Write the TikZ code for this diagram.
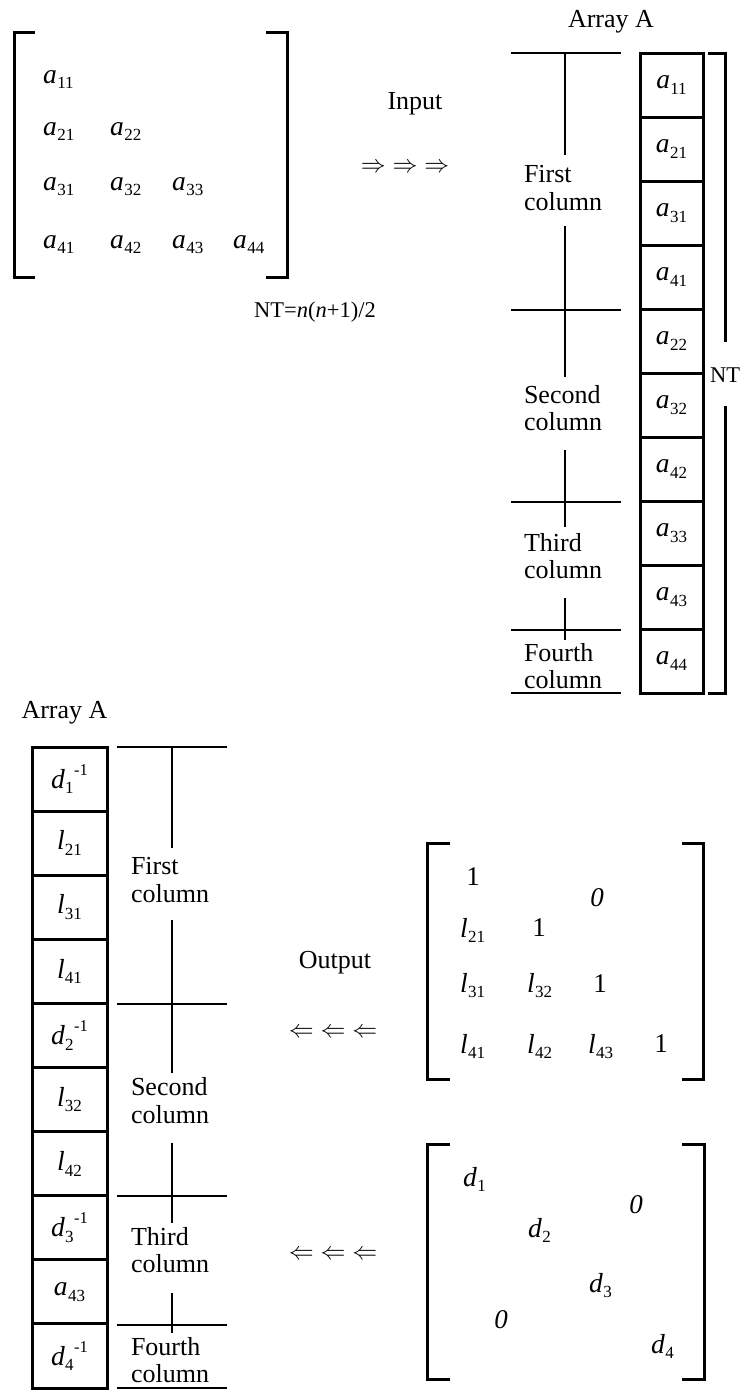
\documentclass[tikz,border=0pt]{standalone}
\usepackage{fontspec}
\setmainfont{Liberation Serif}
\newcommand\sbs[1]{\raisebox{-0.22em}{\fontsize{17}{17}\selectfont #1}}
\newcommand\sps[1]{\raisebox{0.5em}{\fontsize{16.5}{17}\selectfont #1}}
\newcommand\ent[2]{{\fontsize{27.5}{28}\selectfont\textit{#1}}\kern0.3pt\sbs{#2}}
\newcommand\dinv[1]{{\fontsize{27.5}{28}\selectfont\textit{d}}\kern0.3pt\sbs{#1}\kern0.5pt\sps{-1}}
\newcommand\num[1]{{\fontsize{27}{28}\selectfont #1}}
\begin{document}
\begin{tikzpicture}[x=1pt,y=-1pt,
  every node/.style={font=\fontsize{26}{27.5}\selectfont, inner sep=0pt},
  brk/.style={line width=3pt},
  rule/.style={line width=2.8pt},
  cellA/.style={draw, line width=3pt, minimum width=63pt, minimum height=64pt, inner sep=0pt},
  cellB/.style={draw, line width=3pt, minimum width=75pt, minimum height=64.1pt, inner sep=0pt},
  lbl/.style={align=left},
  arr/.style={font=\fontsize{28}{28}\selectfont},
  small/.style={font=\fontsize{22.5}{24}\selectfont}]
\useasboundingbox (0,0) rectangle (747,1390);

% ---------- top-left input matrix ----------
\draw[brk] (35,32) -- (14,32) -- (14,277) -- (35,277);
\draw[brk] (266,32) -- (287,32) -- (287,277) -- (266,277);
\node[anchor=base west] (m11) at (43,83) {\ent{a}{11}};
\node[anchor=base west] (m21) at (43,135) {\ent{a}{21}};
\node[anchor=base west] (m22) at (110,135) {\ent{a}{22}};
\node[anchor=base west] (m31) at (43,190) {\ent{a}{31}};
\node[anchor=base west] (m32) at (110,190) {\ent{a}{32}};
\node[anchor=base west] (m33) at (172,190) {\ent{a}{33}};
\node[anchor=base west] (m41) at (43,248) {\ent{a}{41}};
\node[anchor=base west] (m42) at (110,248) {\ent{a}{42}};
\node[anchor=base west] (m43) at (172,248) {\ent{a}{43}};
\node[anchor=base west] (m44) at (233,248) {\ent{a}{44}};

\node[anchor=base] (input) at (415,109) {Input};
\node[arr] (rarr) at (405,168) {$\Rightarrow\;\Rightarrow\;\Rightarrow$};
\node[anchor=base, small] (ntf) at (315,317) {NT=\textit{n}(\textit{n}+1)/2};

% ---------- top-right array A ----------
\node[anchor=base] (arrA1) at (611,27) {Array A};
\foreach \t [count=\i] in {{\ent{a}{11}},{\ent{a}{21}},{\ent{a}{31}},{\ent{a}{41}},{\ent{a}{22}},{\ent{a}{32}},{\ent{a}{42}},{\ent{a}{33}},{\ent{a}{43}},{\ent{a}{44}}}
  \node[cellA] (ta\i) at (671.5,{85+64*(\i-1)}) {\t};

% NT bracket
\draw[brk] (708,53) -- (725,53) -- (725,342);
\draw[brk] (725,406) -- (725,693) -- (708,693);
\node[small] (nt) at (725,375) {NT};

% column rules (top)
\foreach \yy in {53,310,502,630,693}
  \draw[rule] (511,\yy) -- (621,\yy);
\draw[rule] (565,53) -- (565,155);
\draw[rule] (565,226) -- (565,377);
\draw[rule] (565,450) -- (565,527);
\draw[rule] (565,598) -- (565,640);
\node[lbl] (tc1) at (563,188) {First\\column};
\node[lbl] (tc2) at (563,408) {Second\\column};
\node[lbl] (tc3) at (563,556) {Third\\column};
\node[lbl] (tc4) at (563,666) {Fourth\\column};

% ---------- bottom-left array A ----------
\node[anchor=base] (arrA2) at (64.5,718) {Array A};
\foreach \t [count=\i] in {{\dinv{1}},{\ent{l}{21}},{\ent{l}{31}},{\ent{l}{41}},{\dinv{2}},{\ent{l}{32}},{\ent{l}{42}},{\dinv{3}},{\ent{a}{43}},{\dinv{4}}}
  \node[cellB] (ba\i) at (69.5,{747+32.05+64.1*(\i-1)}) {\t};

\foreach \yy in {747,1004,1196,1325,1388}
  \draw[rule] (117,\yy) -- (227,\yy);
\draw[rule] (172,747) -- (172,848);
\draw[rule] (172,920) -- (172,1073);
\draw[rule] (172,1143) -- (172,1223);
\draw[rule] (172,1293) -- (172,1333);
\node[lbl] (bc1) at (170,880) {First\\column};
\node[lbl] (bc2) at (170,1100.5) {Second\\column};
\node[lbl] (bc3) at (170,1250) {Third\\column};
\node[lbl] (bc4) at (170,1360) {Fourth\\column};

% ---------- output ----------
\node[anchor=base] (output) at (335,968) {Output};
\node[arr] (larr1) at (333,1033) {$\Leftarrow\;\Leftarrow\;\Leftarrow$};
\node[arr] (larr2) at (333,1255) {$\Leftarrow\;\Leftarrow\;\Leftarrow$};

% L matrix
\draw[brk] (450,843) -- (427,843) -- (427,1079) -- (450,1079);
\draw[brk] (682,843) -- (703,843) -- (703,1079) -- (682,1079);
\node[anchor=base] (L11) at (473,885) {\num{1}};
\node[anchor=base] (L0) at (597,906) {\num{\textit{0}}};
\node[anchor=base west] (L21) at (460,937) {\ent{l}{21}};
\node[anchor=base] (L22) at (539,936) {\num{1}};
\node[anchor=base west] (L31) at (460,992) {\ent{l}{31}};
\node[anchor=base west] (L32) at (527,992) {\ent{l}{32}};
\node[anchor=base] (L33) at (600,992) {\num{1}};
\node[anchor=base west] (L41) at (460,1053) {\ent{l}{41}};
\node[anchor=base west] (L42) at (527,1053) {\ent{l}{42}};
\node[anchor=base west] (L43) at (588,1053) {\ent{l}{43}};
\node[anchor=base] (L44) at (661,1052) {\num{1}};

% D matrix
\draw[brk] (450,1144) -- (427,1144) -- (427,1379) -- (450,1379);
\draw[brk] (682,1144) -- (704,1144) -- (704,1379) -- (682,1379);
\node[anchor=base west] (D1) at (463,1186) {\ent{d}{1}};
\node[anchor=base] (D0a) at (636,1213) {\num{\textit{0}}};
\node[anchor=base west] (D2) at (528,1237) {\ent{d}{2}};
\node[anchor=base west] (D3) at (589,1292) {\ent{d}{3}};
\node[anchor=base] (D0b) at (501,1328) {\num{\textit{0}}};
\node[anchor=base west] (D4) at (651,1353) {\ent{d}{4}};
\end{tikzpicture}
\end{document}
